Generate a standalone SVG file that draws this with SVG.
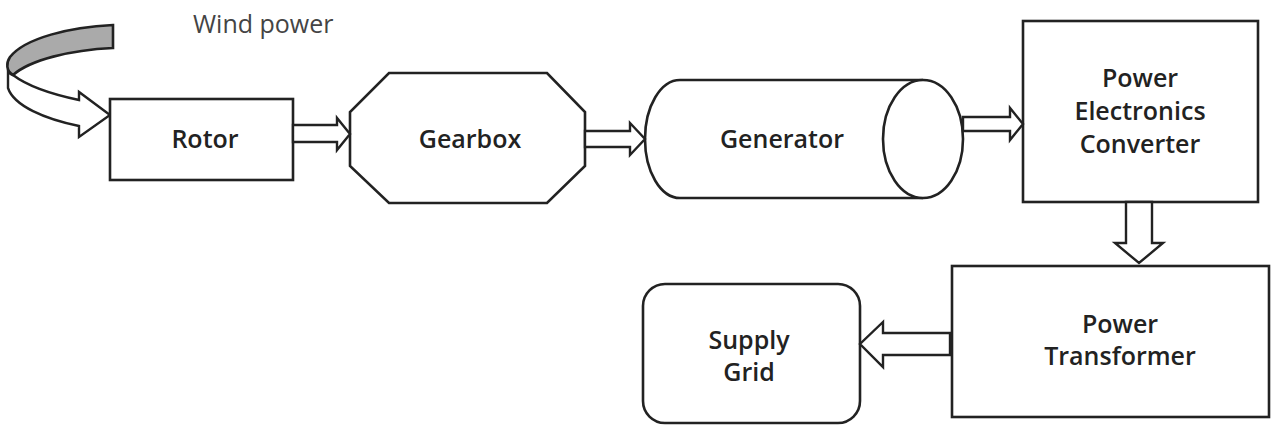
<svg xmlns="http://www.w3.org/2000/svg" width="1272" height="425" viewBox="0 0 1272 425">
<style>
.box{fill:#fff;stroke:#222;stroke-width:2.6;stroke-linejoin:miter}
.arr{fill:#fff;stroke:#222;stroke-width:2.4;stroke-linejoin:miter}
.lbl{font-family:"Open Sans","Liberation Sans",sans-serif;font-weight:600;font-size:25px;fill:#222;text-anchor:middle}
.note{font-family:"Open Sans","Liberation Sans",sans-serif;font-weight:400;font-size:25px;fill:#444}
</style>
<rect width="1272" height="425" fill="#fff"/>
<g id="wind">
<path class="arr" d="M10,66 C8,72 9,74 13,75 C30,88 60,96 79,100 L79,92 L110,115 L79,137 L79,126 C45,119 14,106 8,88 L8,70 Z"/>
<path d="M113,25 L113,48 C70,50 30,60 13,75 C6,71 6,63 10,57 C25,38 70,27 113,25 Z" fill="#aaa" stroke="#222" stroke-width="2.6" stroke-linejoin="miter"/>
<text class="note" x="193" y="33">Wind power</text>
</g>
<g id="rotor">
<rect class="box" x="110" y="99" width="183" height="81"/>
<text class="lbl" x="205" y="148">Rotor</text>
</g>
<g id="gearbox">
<polygon class="box" points="389,73 547,73 585,112 585,166 547,203 389,203 350,166 350,112"/>
<text class="lbl" x="470" y="148">Gearbox</text>
</g>
<g id="generator">
<path class="box" d="M923,80 L680,80 A35,59 0 0 0 680,198 L923,198"/>
<ellipse class="box" cx="923" cy="139" rx="40" ry="59"/>
<text class="lbl" x="782" y="148">Generator</text>
</g>
<g id="converter">
<rect class="box" x="1023" y="21" width="235" height="181"/>
<text class="lbl" x="1140" y="87">Power</text>
<text class="lbl" x="1140" y="120">Electronics</text>
<text class="lbl" x="1140" y="153">Converter</text>
</g>
<g id="transformer">
<rect class="box" x="952" y="266" width="317" height="151"/>
<text class="lbl" x="1120" y="333">Power</text>
<text class="lbl" x="1120" y="365">Transformer</text>
</g>
<g id="grid">
<rect class="box" x="643" y="284" width="217" height="139" rx="22" ry="22"/>
<text class="lbl" x="749" y="349">Supply</text>
<text class="lbl" x="749" y="381">Grid</text>
</g>
<g id="connectors">
<polygon class="arr" points="293,125 337,125 337,118 350,134 337,150 337,142 293,142"/>
<polygon class="arr" points="585,131 630,131 630,123 645,139 630,155 630,147 585,147"/>
<polygon class="arr" points="963,117 1010,117 1010,108 1023,124 1010,140 1010,131 963,131"/>
<polygon class="arr" points="1126,202 1126,243 1115,243 1139,263 1163,243 1152,243 1152,202"/>
<polygon class="arr" points="950,333 883,333 883,322 860,344 883,367 883,355 950,355"/>
</g>
</svg>
